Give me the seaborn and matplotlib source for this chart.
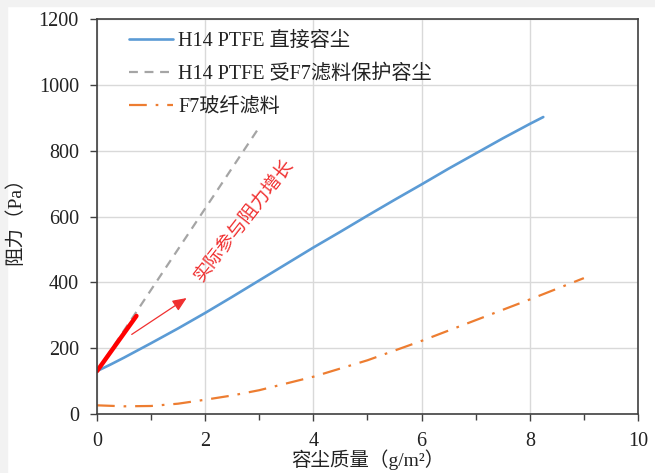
"""Filter resistance vs. dust holding mass (H14 PTFE / F7 glass fibre)."""

import matplotlib
matplotlib.use("Agg")
import matplotlib.pyplot as plt
import pandas as pd
import seaborn as sns
from matplotlib.patches import Rectangle
from matplotlib.ticker import MultipleLocator

h14_x = [0, 0.25, 0.5, 0.75, 1, 1.5, 2, 2.5, 3, 3.5, 4, 4.5, 5, 5.5, 6, 6.5, 7, 7.5, 8, 8.25]
h14_y = [130, 150, 171, 193, 215, 260, 307, 356, 406, 456, 506, 554, 603, 651, 698, 746, 792, 838, 882, 903]

protected_x = [0, 3.0]
protected_y = [130, 872]

f7_x = [0, 0.5, 1, 1.5, 2, 2.5, 3, 4, 5, 6, 7, 8, 9]
f7_y = [26, 23, 24, 31, 43, 56, 72, 113, 163, 222, 285, 348, 413]

actual_x = [0, 0.73]
actual_y = [130, 298]

arrow_from = (0.6, 237)
arrow_to = (1.7, 357)

labels = ["H14 PTFE 直接容尘", "H14 PTFE 受F7滤料保护容尘", "F7玻纤滤料"]
note = "实际参与阻力增长"

sns.set_theme(style="whitegrid")
plt.rcParams["font.family"] = ["Liberation Serif", "Noto Sans CJK SC", "DejaVu Sans"]
plt.rcParams["axes.unicode_minus"] = False

fig = plt.figure(figsize=(6.55, 4.73), dpi=100, facecolor="white")
# light frame of the original screenshot
fig.patches.append(Rectangle((0, 0), 7 / 655, 1, transform=fig.transFigure, color="#f2f2f2", zorder=-5))
fig.patches.append(Rectangle((0, 1 - 6 / 473), 1, 6 / 473, transform=fig.transFigure, color="#f2f2f2", zorder=-5))

ax = fig.add_axes([0.148, 0.125, 0.826, 0.834])
ax.set_facecolor("white")

h14 = pd.DataFrame({"x": h14_x, "y": h14_y})
prot = pd.DataFrame({"x": protected_x, "y": protected_y})
f7 = pd.DataFrame({"x": f7_x, "y": f7_y})
act = pd.DataFrame({"x": actual_x, "y": actual_y})

sns.lineplot(data=h14, x="x", y="y", ax=ax, color="#5B9BD5", linewidth=1.9, label=labels[0])
sns.lineplot(data=prot, x="x", y="y", ax=ax, color="#A5A5A5", linewidth=1.6, label=labels[1])
ax.lines[-1].set_dashes([4, 3])
sns.lineplot(data=f7, x="x", y="y", ax=ax, color="#ED7D31", linewidth=1.6, label=labels[2])
ax.lines[-1].set_dashes([8, 4, 1.2, 4])
sns.lineplot(data=act, x="x", y="y", ax=ax, color="#FF0000", linewidth=3.2, legend=False)

ax.annotate("", xy=arrow_to, xytext=arrow_from,
            arrowprops=dict(arrowstyle="-|>,head_length=0.7,head_width=0.3",
                            color="#F03030", lw=0.9))
ax.text(2.72, 588, note, color="#F03030", fontsize=13.5, rotation=52,
        ha="center", va="center", rotation_mode="anchor")

ax.set_xlim(0, 10)
ax.set_ylim(0, 1200)
ax.xaxis.set_major_locator(MultipleLocator(2))
ax.xaxis.set_minor_locator(MultipleLocator(1))
ax.yaxis.set_major_locator(MultipleLocator(200))
ax.grid(True, which="major", color="#D9D9D9", linewidth=1.0)
ax.grid(False, which="minor")
for s in ax.spines.values():
    s.set_color("#404040")
    s.set_linewidth(1.2)
    s.set_visible(True)
ax.tick_params(axis="both", which="major", labelsize=14.5, colors="#404040",
               labelcolor="#222222", length=5, width=1.0, bottom=True, left=True,
               direction="out", pad=8)
ax.tick_params(axis="x", which="major", pad=8)
ax.tick_params(axis="x", which="minor", length=4, width=1.0, bottom=True, direction="out", colors="#404040")

ax.set_xlabel("容尘质量（g/m²）", fontsize=14, color="#222222", labelpad=-1)
ax.set_ylabel("阻力（Pa）", fontsize=14, color="#222222", labelpad=10)

leg = ax.legend(loc="upper left", frameon=False, fontsize=14.5, handlelength=2.2,
                handletextpad=0.25, labelspacing=0.7, bbox_to_anchor=(0.026, 1.015))
for t in leg.get_texts():
    t.set_color("#222222")

fig.savefig("out.png", dpi=100, facecolor="white")
